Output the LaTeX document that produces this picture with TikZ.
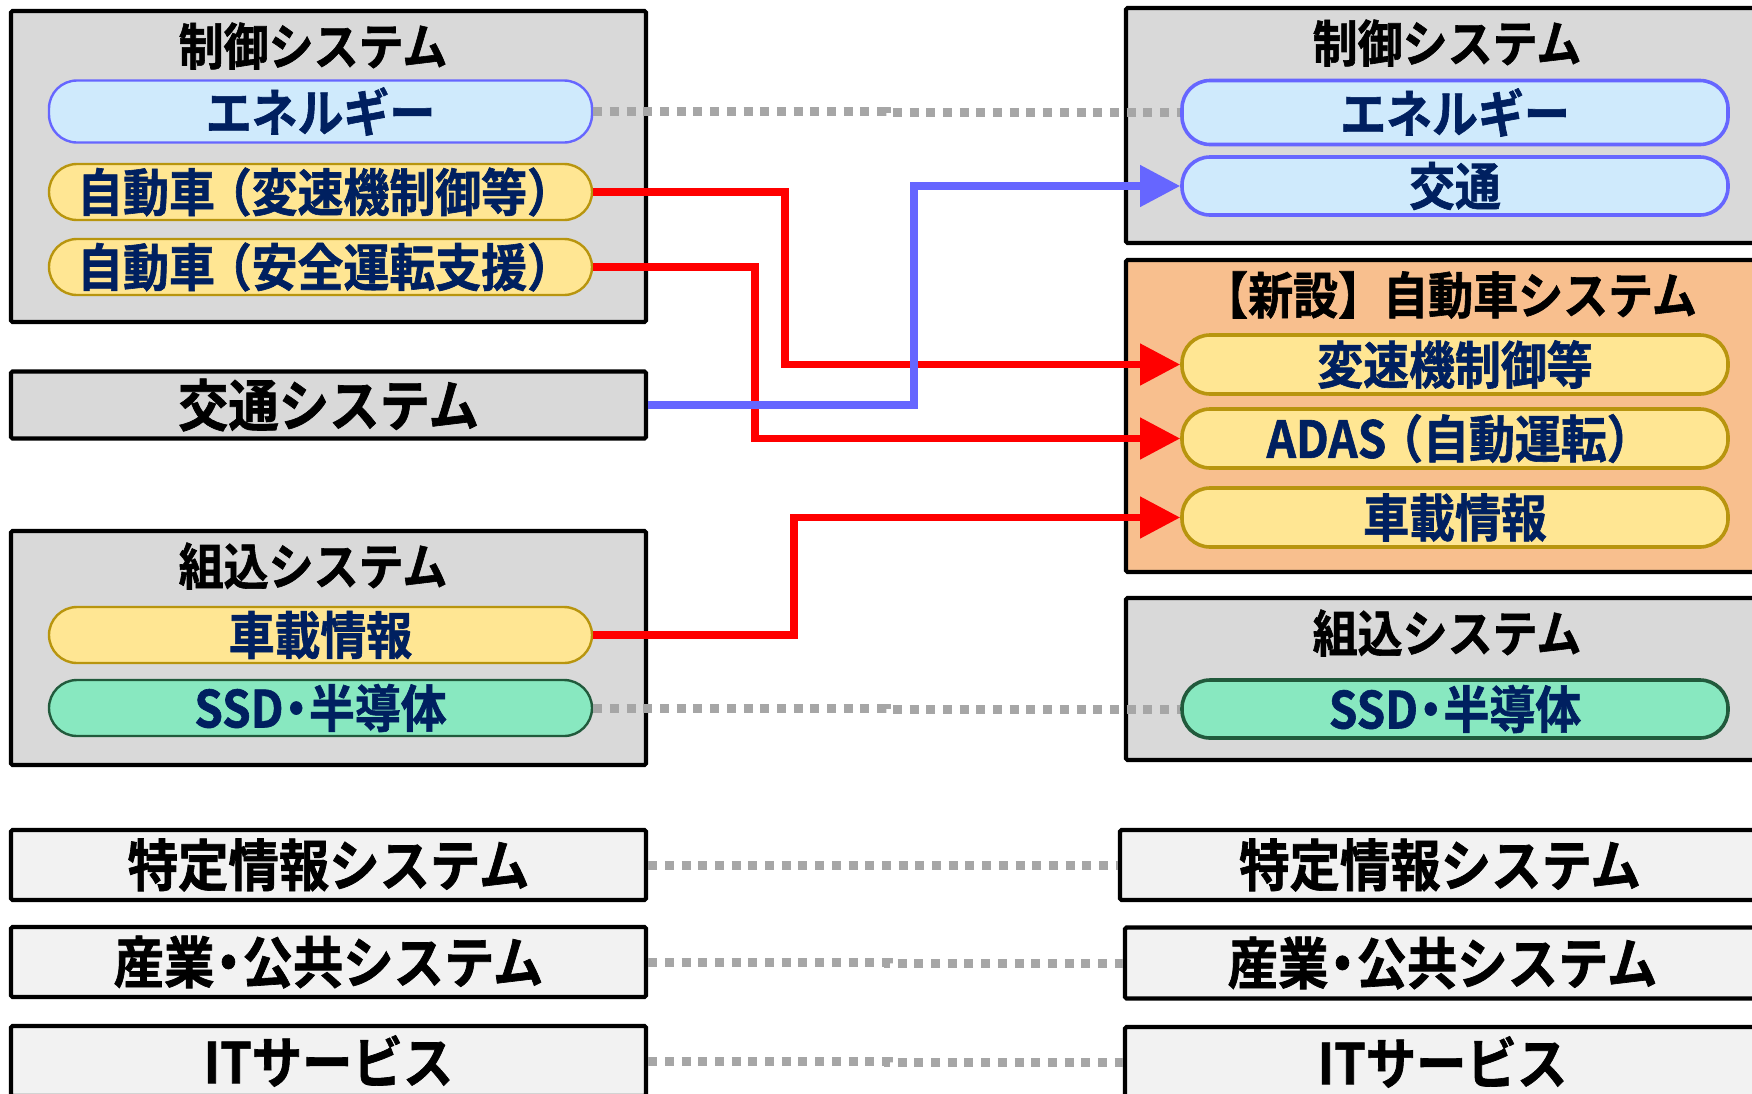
\documentclass[tikz,border=0pt]{standalone}
\usepackage{fontspec}
\newfontfamily\jpb{Noto Sans CJK JP Bold}[FakeStretch=0.9,FakeBold=1.2]
\usetikzlibrary{arrows.meta}
\definecolor{boxgray}{HTML}{D9D9D9}
\definecolor{lightfill}{HTML}{F2F2F2}
\definecolor{orangefill}{HTML}{F8BF8E}
\definecolor{navy}{HTML}{002060}
\definecolor{pbluef}{HTML}{CFEAFC}
\definecolor{pblueb}{HTML}{6666FF}
\definecolor{pyelf}{HTML}{FFE693}
\definecolor{pyelb}{HTML}{B8950E}
\definecolor{pgrnf}{HTML}{88E8C0}
\definecolor{pgrnb}{HTML}{215A3C}
\definecolor{conred}{HTML}{FF0000}
\definecolor{conblue}{HTML}{6666FF}
\definecolor{dotgray}{HTML}{A6A6A6}
\newcommand\tfnt{\jpb\fontsize{50pt}{60pt}\selectfont}
\newcommand\pfnt{\jpb\fontsize{51pt}{60pt}\selectfont}
\newcommand\bfnt{\jpb\fontsize{56pt}{66pt}\selectfont}
\newcommand\nd{\makebox[0.5em]{・}}
\newcommand\lp{\makebox[0.72em][r]{（}}
\newcommand\rp{\makebox[0.72em][l]{）}}
\tikzset{
  grp/.style={draw=black, line width=4.2pt, fill=boxgray, rounded corners=1.5pt, inner sep=0pt},
  grpnew/.style={grp, fill=orangefill},
  grplight/.style={grp, fill=lightfill, font=\bfnt, text=black},
  grpmid/.style={grp, font=\bfnt, text=black},
  grptitle/.style={font=\tfnt, text=black, inner sep=0pt},
  pill/.style={rounded corners=28pt, inner sep=0pt, font=\pfnt, text=navy},
  pillB/.style={pill, draw=pblueb, fill=pbluef},
  pillY/.style={pill, draw=pyelb, fill=pyelf},
  pillG/.style={pill, draw=pgrnb, fill=pgrnf},
  pillL/.style={minimum width=543pt, line width=2.4pt},
  pillR/.style={minimum width=546pt, line width=3.6pt},
  redcon/.style={draw=conred, line width=7.5pt, -{Triangle[length=40pt,width=40pt]}},
  bluecon/.style={draw=conblue, line width=7.5pt, -{Triangle[length=40pt,width=40pt]}},
  dotcon/.style={draw=dotgray, line width=9pt, dash pattern=on 9pt off 7.7pt},
}
\begin{document}
\begin{tikzpicture}[x=1pt,y=-1pt]
\useasboundingbox (0,0) rectangle (1752,1093);
\clip (0,0) rectangle (1752,1093);

% ---------- left column ----------
\node[grp, minimum width=635pt, minimum height=311pt] (ctlL) at (328.5,166.5) {};
\node[grptitle] (ctlLt) at (313,46) {制御システム};
\node[pillB, pillL, minimum height=62pt] (enL) at (320.5,111.5) {エネルギー};
\node[pillY, pillL, minimum height=56pt] (vsL) at (320.5,192) {自動車\lp 変速機制御等\rp};
\node[pillY, pillL, minimum height=56pt] (adL) at (320.5,267) {自動車\lp 安全運転支援\rp};

\node[grpmid, minimum width=635pt, minimum height=67pt] (trL) at (328.5,405) {交通システム};

\node[grp, minimum width=635pt, minimum height=234pt] (emL) at (328.5,648) {};
\node[grptitle] (emLt) at (313,566) {組込システム};
\node[pillY, pillL, minimum height=56pt] (carL) at (320.5,635) {車載情報};
\node[pillG, pillL, minimum height=56pt] (ssdL) at (320.5,708) {SSD\nd 半導体};

\node[grplight, minimum width=635pt, minimum height=70pt] (tokL) at (328.5,865) {特定情報システム};
\node[grplight, minimum width=635pt, minimum height=70pt] (sanL) at (328.5,962) {産業\nd 公共システム};
\node[grplight, minimum width=635pt, minimum height=70pt] (itL) at (328.5,1061) {ITサービス};

% ---------- right column ----------
\node[grp, minimum width=634pt, minimum height=235pt] (ctlR) at (1443,125.5) {};
\node[grptitle] (ctlRt) at (1447,43) {制御システム};
\node[pillB, pillR, minimum height=64pt] (enR) at (1455,112.5) {エネルギー};
\node[pillB, pillR, minimum height=58pt] (trR) at (1455,186) {交通};

\node[grpnew, minimum width=634pt, minimum height=312pt] (newR) at (1443,416) {};
\node[grptitle] (newRt) at (1450,295) {【新設】自動車システム};
\node[pillY, pillR, minimum height=59pt] (vsR) at (1455,364.5) {変速機制御等};
\node[pillY, pillR, minimum height=59pt] (adR) at (1455,438.5) {ADAS\lp 自動運転\rp};
\node[pillY, pillR, minimum height=59pt] (carR) at (1455,517.5) {車載情報};

\node[grp, minimum width=634pt, minimum height=162pt] (emR) at (1443,679) {};
\node[grptitle] (emRt) at (1447,633) {組込システム};
\node[pillG, pillR, minimum height=58pt] (ssdR) at (1455,709) {SSD\nd 半導体};

\node[grplight, minimum width=640pt, minimum height=70pt] (tokR) at (1440,865) {特定情報システム};
\node[grplight, minimum width=635pt, minimum height=71pt] (sanR) at (1442.5,963) {産業\nd 公共システム};
\node[grplight, minimum width=635pt, minimum height=70pt] (itR) at (1442.5,1062) {ITサービス};

% ---------- bend coordinates ----------
\coordinate (b1) at (785,0);
\coordinate (b2) at (755,0);
\coordinate (b3) at (914,0);
\coordinate (b4) at (794,0);
\coordinate (m1) at (886,0);
\coordinate (m2) at (888,0);

% ---------- dotted links ----------
\draw[dotcon] (enL.east) -| (m1 |- enR.west) -- (enR.west);
\draw[dotcon] (ssdL.east) -| (m1 |- ssdR.west) -- (ssdR.west);
\draw[dotcon] (tokL.east) -- (tokR.west);
\draw[dotcon] (sanL.east) -| (m2 |- sanR.west) -- (sanR.west);
\draw[dotcon] (itL.east) -| (m2 |- itR.west) -- (itR.west);

% ---------- arrows ----------
\draw[redcon] (vsL.east) -| (b1 |- vsR.west) -- (vsR.west);
\draw[redcon] (adL.east) -| (b2 |- adR.west) -- (adR.west);
\draw[bluecon] (trL.east) -| (b3 |- trR.west) -- (trR.west);
\draw[redcon] (carL.east) -| (b4 |- carR.west) -- (carR.west);
\end{tikzpicture}
\end{document}
